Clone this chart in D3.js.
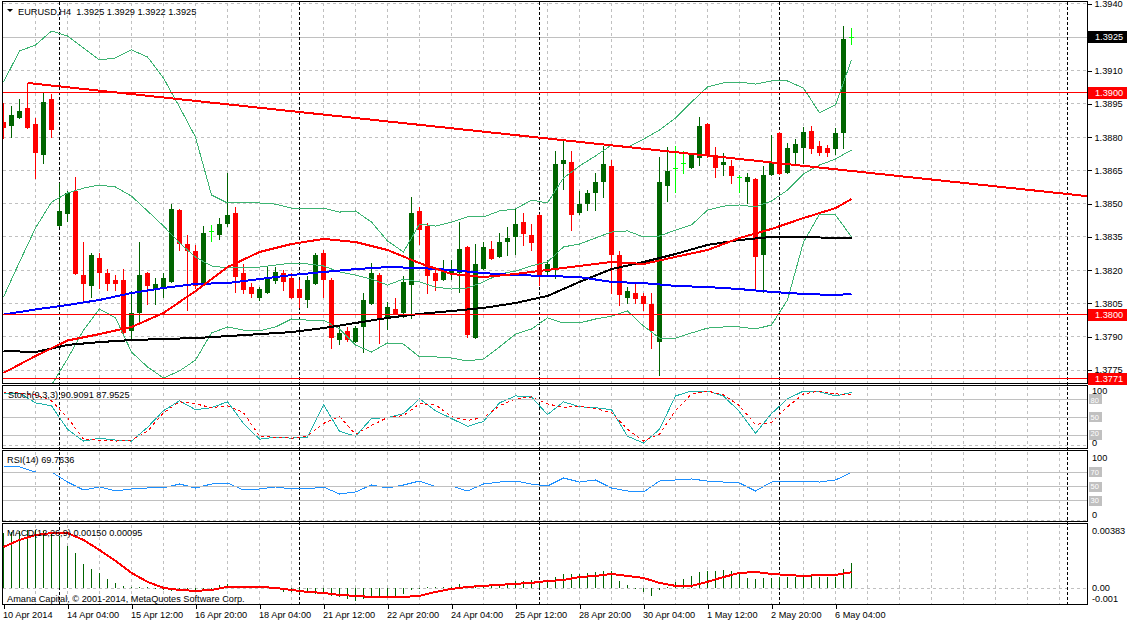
<!DOCTYPE html>
<html><head><meta charset="utf-8">
<script src="https://cdnjs.cloudflare.com/ajax/libs/d3/7.8.5/d3.min.js"></script>
<style>
body{margin:0;background:#fff;}
svg{display:block;font-family:"Liberation Sans",Arial,sans-serif;}
</style></head><body>
<svg id="c" width="1128" height="623"></svg>
<script>
// ---------- DATA ----------
const openP = [1.38868,1.38855,1.38891,1.38931,1.38859,1.38724,1.38972,1.38404,1.38458,1.38557,
1.38178,1.38133,1.38255,1.38187,1.38156,1.38156,1.37930,1.38011,1.38187,1.38120,
1.38124,1.38151,1.38471,1.38318,1.38287,1.38138,1.38377,1.38363,1.38413,1.38458,
1.38187,1.38124,1.38079,1.38102,1.38156,1.38187,1.38165,1.38115,1.38070,1.38142,
1.38277,1.38156,1.37890,1.37926,1.37881,1.37948,1.38052,1.38178,1.37989,1.38025,
1.38011,1.38138,1.38467,1.38399,1.38187,1.38160,1.38192,1.38192,1.38305,1.37899,
1.38210,1.38296,1.38264,1.38332,1.38354,1.38417,1.38359,1.38449,1.38196,1.38210,
1.38683,1.38688,1.38462,1.38501,1.38552,1.38602,1.38670,1.38268,1.38079,1.38097,
1.38084,1.38048,1.37881,1.38584,1.38661,1.38683,1.38665,1.38710,1.38859,1.38719,
1.38679,1.38670,1.38620,1.38602,1.38611,1.38273,1.38634,1.38818,1.38643,1.38733,
1.38755,1.38827,1.38760,1.38751,1.38751,1.38823,1.3925];
const highP = [1.38954,1.38940,1.38972,1.39044,1.38886,1.38999,1.38994,1.38593,1.38557,1.38620,
1.38327,1.38277,1.38277,1.38205,1.38178,1.38205,1.38106,1.38327,1.38192,1.38165,
1.38187,1.38498,1.38476,1.38359,1.38314,1.38399,1.38404,1.38435,1.38638,1.38487,
1.38228,1.38142,1.38124,1.38214,1.38214,1.38201,1.38187,1.38156,1.38174,1.38277,
1.38293,1.38165,1.37948,1.37944,1.37948,1.38097,1.38232,1.38187,1.38057,1.38075,
1.38174,1.38532,1.38487,1.38413,1.38201,1.38247,1.38247,1.38417,1.38308,1.38318,
1.38327,1.38332,1.38368,1.38395,1.38476,1.38458,1.38408,1.38453,1.38247,1.38737,
1.38791,1.38737,1.38557,1.38561,1.38638,1.38760,1.38697,1.38287,1.38124,1.38142,
1.38097,1.38097,1.38710,1.38755,1.38760,1.38737,1.38724,1.38891,1.38864,1.38755,
1.38728,1.38697,1.38629,1.38638,1.38616,1.38670,1.38809,1.38823,1.38773,1.38791,
1.38846,1.38850,1.38782,1.38764,1.38841,1.39301,1.3929];
const lowP = [1.38796,1.38800,1.38886,1.38841,1.38616,1.38683,1.38800,1.38399,1.38422,1.38183,
1.38057,1.38079,1.38120,1.38111,1.38111,1.37917,1.37885,1.37962,1.38048,1.38048,
1.38079,1.38147,1.38293,1.38021,1.38120,1.38133,1.38332,1.38341,1.38399,1.38102,
1.38097,1.38079,1.38066,1.38097,1.38142,1.38111,1.38075,1.38034,1.38034,1.38138,
1.38079,1.37849,1.37867,1.37881,1.37876,1.37831,1.38048,1.37872,1.37935,1.38003,
1.37989,1.37985,1.38318,1.38097,1.38111,1.38156,1.38160,1.38102,1.37899,1.37894,
1.38205,1.38251,1.38259,1.38268,1.38273,1.38314,1.38291,1.38133,1.38183,1.38165,
1.38566,1.38381,1.38453,1.38471,1.38471,1.38528,1.38097,1.38043,1.38052,1.38052,
1.38021,1.37849,1.37728,1.38510,1.38552,1.38638,1.38661,1.38674,1.38710,1.38620,
1.38629,1.38593,1.38552,1.38501,1.38120,1.38102,1.38629,1.38634,1.38638,1.38683,
1.38683,1.38728,1.38719,1.38715,1.38724,1.38751,1.3922];
const closeP = [1.38846,1.38900,1.38918,1.38846,1.38733,1.38958,1.38837,1.38467,1.38548,1.38187,
1.38142,1.38268,1.38192,1.38142,1.38142,1.37921,1.38007,1.38178,1.38133,1.38138,
1.38165,1.38476,1.38323,1.38291,1.38133,1.38368,1.38377,1.38408,1.38449,1.38174,
1.38115,1.38097,1.38115,1.38169,1.38192,1.38151,1.38079,1.38079,1.38156,1.38268,
1.38160,1.37899,1.37917,1.37890,1.37939,1.38066,1.38187,1.37980,1.38034,1.38007,
1.38147,1.38458,1.38386,1.38178,1.38156,1.38205,1.38205,1.38296,1.37912,1.38228,
1.38305,1.38255,1.38327,1.38345,1.38408,1.38368,1.38327,1.38183,1.38228,1.38679,
1.38697,1.38453,1.38498,1.38548,1.38598,1.38679,1.38273,1.38093,1.38106,1.38075,
1.38052,1.37930,1.38598,1.38647,1.38661,1.38683,1.38719,1.38850,1.38719,1.38665,
1.38688,1.38629,1.38620,1.38620,1.38264,1.38629,1.38688,1.38638,1.38751,1.38769,
1.38823,1.38751,1.38733,1.38733,1.38818,1.39242,1.3925];

const xTickBars = [0,8,16,24,32,40,48,56,64,72,80,88,96,104];
const xTickLabels = ["10 Apr 2014","14 Apr 04:00","15 Apr 12:00","16 Apr 20:00","18 Apr 04:00",
"21 Apr 12:00","22 Apr 20:00","24 Apr 04:00","25 Apr 12:00","28 Apr 20:00","30 Apr 04:00",
"1 May 12:00","2 May 20:00","6 May 04:00"];
const priceTicks = [1.3775,1.3790,1.3805,1.3820,1.3835,1.3850,1.3865,1.3880,1.3895,1.3910,1.3925,1.3940];

// moving averages sampled every 4 bars (+ last bar)
const maIdx = d3.range(0,105,4).concat([106]);
const maRed = [1.37737,1.37813,1.37883,1.37912,1.37944,1.38007,1.38106,1.38214,1.38282,1.38318,
1.38341,1.38327,1.38291,1.38232,1.38183,1.38169,1.38183,1.38201,1.38219,1.38237,
1.38228,1.38260,1.38291,1.38345,1.38386,1.38435,1.38480,1.38521];
const maBlue = [1.38000,1.38023,1.38043,1.38066,1.38097,1.38120,1.38138,1.38142,1.38160,1.38178,
1.38192,1.38205,1.38214,1.38210,1.38201,1.38187,1.38178,1.38174,1.38169,1.38147,
1.38142,1.38129,1.38124,1.38115,1.38102,1.38093,1.38088,1.38093];
const maBlack = [1.37836,1.37831,1.37863,1.37876,1.37885,1.37890,1.37894,1.37903,1.37912,1.37921,
1.37939,1.37962,1.37985,1.38003,1.38016,1.38030,1.38052,1.38084,1.38147,1.38205,
1.38237,1.38273,1.38314,1.38336,1.38350,1.38350,1.38345,1.38345];

// Bollinger bands & oscillators sampled every 2 bars
const oscIdx = d3.range(0,107,2);
const bbUpper = [1.39048,1.39188,1.39215,1.39278,1.39256,1.39202,1.39148,1.39157,1.39193,1.39161,
1.39066,1.38936,1.38800,1.38539,1.38503,1.38503,1.38503,1.38498,1.38480,1.38480,
1.38480,1.38462,1.38467,1.38417,1.38332,1.38282,1.38408,1.38399,1.38417,1.38440,
1.38440,1.38467,1.38476,1.38516,1.38503,1.38616,1.38670,1.38715,1.38764,1.38755,
1.38791,1.38832,1.38886,1.38958,1.39026,1.39044,1.39048,1.39039,1.39053,1.39053,
1.39021,1.38909,1.38945,1.39148];
const bbMiddle = [1.38079,1.38237,1.38390,1.38507,1.38548,1.38570,1.38584,1.38575,1.38534,1.38467,
1.38399,1.38323,1.38259,1.38219,1.38210,1.38210,1.38214,1.38223,1.38232,1.38228,
1.38219,1.38192,1.38178,1.38160,1.38133,1.38160,1.38147,1.38124,1.38115,1.38120,
1.38147,1.38183,1.38196,1.38219,1.38237,1.38305,1.38318,1.38345,1.38372,1.38377,
1.38350,1.38354,1.38381,1.38404,1.38471,1.38489,1.38494,1.38485,1.38512,1.38561,
1.38634,1.38674,1.38701,1.38742];
const bbLower = [1.37110,1.37286,1.37565,1.37682,1.37800,1.37930,1.38025,1.37985,1.37831,1.37764,
1.37714,1.37746,1.37795,1.37917,1.37944,1.37930,1.37926,1.37944,1.37980,1.37975,
1.37975,1.37935,1.37863,1.37831,1.37872,1.37867,1.37809,1.37809,1.37804,1.37791,
1.37800,1.37854,1.37912,1.37935,1.37985,1.37962,1.37962,1.37980,1.37993,1.38016,
1.37948,1.37894,1.37894,1.37917,1.37939,1.37944,1.37944,1.37935,1.37953,1.38066,
1.38327,1.38453,1.38449,1.38350];
const stochMain = [90.0,90.0,73.6,68.7,29.5,9.8,14.7,11.5,9.8,32.7,
60.6,76.9,62.2,65.5,75.3,39.3,13.1,16.4,14.7,16.4,
70.4,26.2,18.0,47.5,49.1,55.6,80.2,60.6,47.5,34.4,
42.6,73.6,85.1,83.5,54.0,75.3,67.1,65.5,62.2,18.0,
6.5,29.5,85.1,93.3,93.3,85.1,58.9,22.9,55.6,80.2,
93.3,91.7,85.1,90.91];
const stochSignal = [91.7,90.0,86.7,76.9,49.1,13.1,11.5,9.8,11.5,26.2,
57.3,75.3,72.0,65.5,68.7,57.3,18.0,16.4,14.7,18.0,
39.3,50.7,21.3,36.0,49.1,52.4,72.0,70.4,50.7,44.2,
49.1,68.7,80.2,83.5,72.0,65.5,68.7,63.8,57.3,29.5,
9.8,21.3,60.6,88.4,93.3,86.7,68.7,37.6,40.9,67.1,
88.4,93.3,88.4,87.95];
const rsiVals = [77.5,77.5,70.4,70.4,56.3,45.1,49.3,43.7,46.5,47.9,
47.9,53.5,47.9,53.5,54.9,45.1,46.5,49.3,46.5,46.5,
49.3,39.4,42.3,52.1,47.9,52.1,57.7,50.0,50.7,43.7,
53.5,56.3,57.7,53.5,50.7,62.0,56.3,59.2,47.9,43.7,
42.3,57.7,59.2,60.6,57.7,56.3,54.9,43.7,56.3,57.7,
57.7,56.3,59.2,69.76];
const macdSignal = [0.00246,0.00288,0.00317,0.00329,0.00329,0.00288,0.00228,0.00163,0.00091,0.00038,
0.00002,-0.00010,-0.00016,-0.00010,0.00008,0.00008,0.00008,0.00002,-0.00010,-0.00022,
-0.00028,-0.00040,-0.00046,-0.00052,-0.00052,-0.00052,-0.00046,-0.00022,-0.00004,0.00008,
0.00014,0.00020,0.00026,0.00032,0.00043,0.00049,0.00067,0.00073,0.00085,0.00073,
0.00061,0.00032,0.00014,0.00014,0.00038,0.00067,0.00091,0.00097,0.00085,0.00079,
0.00073,0.00079,0.00079,0.00095];
// MACD main (histogram) one value per bar
const macdMain = [0.00329,0.00335,0.00341,0.00347,0.00347,0.00341,0.00329,0.00311,0.00252,0.00210,
0.00145,0.00115,0.00091,0.00055,0.00032,0.00014,0.00005,0.00005,0.00005,0.00004,
-0.00010,-0.00016,-0.00019,-0.00019,-0.00016,-0.00010,-0.00001,0.00020,0.00026,0.00015,
0.00014,0.00010,0.00014,0.00010,-0.00007,-0.00024,-0.00024,-0.00026,-0.00030,-0.00034,
-0.00034,-0.00044,-0.00054,-0.00064,-0.00074,-0.00064,-0.00054,-0.00054,-0.00054,-0.00044,
-0.00034,-0.00010,0.00002,0.00006,0.00010,0.00010,0.00010,0.00026,0.00015,0.00015,
0.00015,0.00026,0.00026,0.00030,0.00045,0.00045,0.00049,0.00036,0.00045,0.00065,
0.00085,0.00085,0.00085,0.00089,0.00095,0.00101,0.00105,0.00045,0.00021,0.00000,
-0.00024,-0.00044,-0.00010,0.00006,0.00036,0.00055,0.00075,0.00099,0.00105,0.00105,
0.00109,0.00101,0.00085,0.00060,0.00055,0.00061,0.00061,0.00065,0.00069,0.00069,
0.00069,0.00085,0.00069,0.00069,0.00069,0.00115,0.00150];

const hLinePrices = [1.3900,1.3800,1.3771];
const bidPrice = 1.3925;
const trendBars = [3,97];
const trendPrices = [1.39044,1.38682];
const separatorBars = [7,37,67,97,133];
const stochLevels = [80,50,20];
const rsiLevels = [70,50,30];

// ---------- SCALES ----------
const svg = d3.select('#c');
const x = d3.scaleLinear().domain([0,106]).range([3.5,851.5]);
const yMain = d3.scaleLinear().domain([1.37687,1.39418]).range([384,0]);
const ySto = d3.scaleLinear().domain([0,100]).range([447,387]);
const yRsi = d3.scaleLinear().domain([0,100]).range([522,451]);
const yMacd = d3.scaleLinear().domain([-0.001,0.00383]).range([605,524]);
const crisp = v => Math.round(v - 0.5) + 0.5;
const FS = 9.2;
const FSL = 7.5;

const panels = [
  {id:'cMain', top:1.5, bottom:383.5},
  {id:'cSto', top:385.5, bottom:448.5},
  {id:'cRsi', top:450.5, bottom:521.5},
  {id:'cMacd', top:523.5, bottom:604.5}
];
const defs = svg.append('defs');
panels.forEach(p => {
  defs.append('clipPath').attr('id', p.id).append('rect')
    .attr('x', 3).attr('y', p.top + 0.5).attr('width', 1084).attr('height', p.bottom - p.top - 1);
});

// ---------- GRID ----------
const grid = svg.append('g').attr('shape-rendering','crispEdges')
  .attr('stroke','#c0c0c0').attr('stroke-dasharray','3,3');
const vGrid = d3.range(1, 34).map(k => 3.5 + 32*k).filter(v => v < 1087);
panels.forEach(p => {
  vGrid.forEach(v => grid.append('line').attr('x1', v).attr('x2', v)
    .attr('y1', p.top + 1).attr('y2', p.bottom - 1));
});
priceTicks.forEach(t => {
  const yy = crisp(yMain(t));
  grid.append('line').attr('x1',3).attr('x2',1087).attr('y1',yy).attr('y2',yy);
});
[crisp(ySto(2)), crisp(yRsi(2.5)), crisp(yMacd(0))].forEach(yy =>
  grid.append('line').attr('x1',3).attr('x2',1087).attr('y1',yy).attr('y2',yy));

// bid line (solid silver)
const lv = svg.append('g').attr('shape-rendering','crispEdges').attr('stroke','#c0c0c0');
lv.append('line').attr('x1',3).attr('x2',1087)
  .attr('y1',crisp(yMain(bidPrice))).attr('y2',crisp(yMain(bidPrice)));

// period separators
const sep = svg.append('g').attr('shape-rendering','crispEdges')
  .attr('stroke','#000').attr('stroke-dasharray','3,2');
separatorBars.forEach(b => {
  const xx = crisp(x(b));
  sep.append('line').attr('x1',xx).attr('x2',xx).attr('y1',2).attr('y2',604);
});

// ---------- MAIN PANEL ----------
const gm = svg.append('g').attr('clip-path','url(#cMain)');
const candles = gm.append('g').attr('shape-rendering','crispEdges');
openP.forEach((o,i) => {
  const c = closeP[i], h = highP[i], l = lowP[i];
  const cx = x(i);
  const doji = o === c;
  const col = doji ? '#00ff00' : (c > o ? '#006400' : '#ff0000');
  const yh = Math.round(yMain(h)), yl = Math.round(yMain(l));
  candles.append('rect').attr('x', cx - 0.5).attr('y', yh)
    .attr('width', 1).attr('height', Math.max(1, yl - yh + 1)).attr('fill', col);
  const yt = Math.round(yMain(Math.max(o,c))), yb = Math.round(yMain(Math.min(o,c)));
  candles.append('rect').attr('x', cx - 2.5).attr('y', yt)
    .attr('width', 5).attr('height', Math.max(1, yb - yt + (doji?0:1))).attr('fill', col);
});

const lineOn = (ys, idx) => d3.line().x((d,k) => x(idx[k])).y(d => ys(d));
const lines = gm.append('g').attr('fill','none').attr('shape-rendering','crispEdges');
[bbUpper, bbMiddle, bbLower].forEach(arr =>
  lines.append('path').attr('d', lineOn(yMain, oscIdx)(arr))
    .attr('stroke','#3cb371').attr('stroke-width',1));
lines.append('path').attr('d', lineOn(yMain, maIdx)(maBlack)).attr('stroke','#000').attr('stroke-width',2);
lines.append('path').attr('d', lineOn(yMain, maIdx)(maBlue)).attr('stroke','#0000ff').attr('stroke-width',2);
lines.append('path').attr('d', lineOn(yMain, maIdx)(maRed)).attr('stroke','#ff0000').attr('stroke-width',2);

// objects: horizontal lines and trendline
const obj = gm.append('g').attr('shape-rendering','crispEdges');
hLinePrices.forEach(p => {
  const yy = crisp(yMain(p));
  obj.append('line').attr('x1',3).attr('x2',1087).attr('y1',yy).attr('y2',yy)
    .attr('stroke','#ff0000').attr('stroke-width',1);
});
const slope = (trendPrices[1]-trendPrices[0])/(trendBars[1]-trendBars[0]);
const endBar = x.invert(1087);
obj.append('line')
  .attr('x1', x(trendBars[0])).attr('y1', yMain(trendPrices[0]))
  .attr('x2', x(endBar)).attr('y2', yMain(trendPrices[0] + slope*(endBar - trendBars[0])))
  .attr('stroke','#ff0000').attr('stroke-width',2);

// ---------- STOCH ----------
const gs = svg.append('g').attr('clip-path','url(#cSto)').attr('fill','none').attr('shape-rendering','crispEdges');
gs.append('path').attr('d', lineOn(ySto, oscIdx)(stochMain)).attr('stroke','#20b2aa').attr('stroke-width',1);
gs.append('path').attr('d', lineOn(ySto, oscIdx)(stochSignal)).attr('stroke','#ff0000')
  .attr('stroke-width',1).attr('stroke-dasharray','3,3');
stochLevels.forEach(l => gs.append('line').attr('x1',3).attr('x2',1087)
  .attr('y1',crisp(ySto(l))).attr('y2',crisp(ySto(l))).attr('stroke','#c0c0c0'));

// ---------- RSI ----------
const gr = svg.append('g').attr('clip-path','url(#cRsi)').attr('fill','none').attr('shape-rendering','crispEdges');
gr.append('path').attr('d', lineOn(yRsi, oscIdx)(rsiVals)).attr('stroke','#1e90ff').attr('stroke-width',1);
rsiLevels.forEach(l => gr.append('line').attr('x1',3).attr('x2',1087)
  .attr('y1',crisp(yRsi(l))).attr('y2',crisp(yRsi(l))).attr('stroke','#c0c0c0'));

// ---------- MACD ----------
const gd = svg.append('g').attr('clip-path','url(#cMacd)').attr('shape-rendering','crispEdges');
macdMain.forEach((v,i) => {
  const y0 = Math.round(yMacd(0)), y1 = Math.round(yMacd(v));
  gd.append('rect').attr('x', x(i) - 0.5).attr('y', Math.min(y0,y1))
    .attr('width',1).attr('height', Math.max(1, Math.abs(y1-y0))).attr('fill','#006400');
});
gd.append('path').attr('d', lineOn(yMacd, oscIdx)(macdSignal)).attr('fill','none')
  .attr('stroke','#ff0000').attr('stroke-width',2);

// ---------- PANEL BORDERS ----------
const bord = svg.append('g').attr('shape-rendering','crispEdges').attr('fill','none').attr('stroke','#000');
panels.forEach(p => bord.append('rect').attr('x',2.5).attr('y',p.top)
  .attr('width',1085).attr('height',p.bottom-p.top));

// ---------- AXES ----------
const fmt4 = d3.format('.4f');
const ax = svg.append('g').attr('transform','translate(1087.5,0)')
  .call(d3.axisRight(yMain).tickValues(priceTicks).tickSize(4).tickPadding(3).tickFormat(fmt4));
ax.select('.domain').remove();
ax.selectAll('text').attr('font-size',FS).attr('font-family','"Liberation Sans",Arial,sans-serif').attr('fill','#000');
ax.selectAll('line').attr('stroke','#000').attr('shape-rendering','crispEdges');

const xa = svg.append('g').attr('transform','translate(0,604.5)')
  .call(d3.axisBottom(x).tickValues(xTickBars).tickSize(4).tickPadding(3)
    .tickFormat((d,i) => xTickLabels[i]));
xa.select('.domain').remove();
xa.selectAll('text').attr('font-size',FS).attr('text-anchor','start').attr('x',-1)
  .attr('font-family','"Liberation Sans",Arial,sans-serif').attr('fill','#000');
xa.selectAll('line').attr('stroke','#000').attr('shape-rendering','crispEdges');

// price boxes
function priceBox(p, fill){
  const yy = yMain(p);
  svg.append('rect').attr('x',1088).attr('y',Math.round(yy)-6).attr('width',39).attr('height',12).attr('fill',fill);
  svg.append('text').attr('x',1095).attr('y',yy).attr('dy','0.35em').attr('font-size',FS)
    .attr('fill','#fff').text(fmt4(p));
}
priceBox(bidPrice,'#000');
hLinePrices.forEach(p => priceBox(p,'#ff0000'));

// sub-window scale labels
function sideText(t, yy){
  svg.append('text').attr('x',1092).attr('y',yy).attr('dy','0.35em').attr('font-size',FS).attr('fill','#000').text(t);
}
function levelBox(t, yy, ty){
  svg.append('rect').attr('x',1089).attr('y',Math.round(yy)-5).attr('width',13).attr('height',10).attr('fill','#c0c0c0');
  svg.append('text').attr('x',1090.5).attr('y',ty).attr('dy','0.35em').attr('font-size',FSL).attr('fill','#fff').text(t);
}
sideText('100', 390.5);
levelBox('80', ySto(80), ySto(80) + 1);
levelBox('50', ySto(50), ySto(50));
levelBox('20', ySto(20), ySto(20) - 1.5);
sideText('0', 443);
sideText('100', 457.3);
rsiLevels.forEach(l => levelBox(String(l), yRsi(l), yRsi(l)));
sideText('0', 514.3);
sideText('0.00383', 530.7);
sideText('0.00', yMacd(0) - 0.5);
sideText('-0.001', 598.8);

// ---------- TITLES ----------
const tg = svg.append('g').attr('font-size',FS).attr('fill','#000');
svg.append('path').attr('d','M7,9 L13,9 L10,12 Z').attr('fill','#000');
const last = openP.length - 1;
tg.append('text').attr('x',18).attr('y',14.5).attr('xml:space','preserve')
  .text(`EURUSD,H4  ${fmt4(openP[last])} ${fmt4(highP[last])} ${fmt4(lowP[last])} ${fmt4(closeP[last])}`);
tg.append('text').attr('x',8).attr('y',398).text('Stoch(9,3,3) 90.9091 87.9525');
tg.append('text').attr('x',7).attr('y',463).text('RSI(14) 69.7636');
tg.append('text').attr('x',7).attr('y',536).text('MACD(12,26,9) 0.00150 0.00095');
tg.append('text').attr('x',7).attr('y',601.5).text('Amana Capital, \u00a9 2001-2014, MetaQuotes Software Corp.');
</script>
</body></html>
